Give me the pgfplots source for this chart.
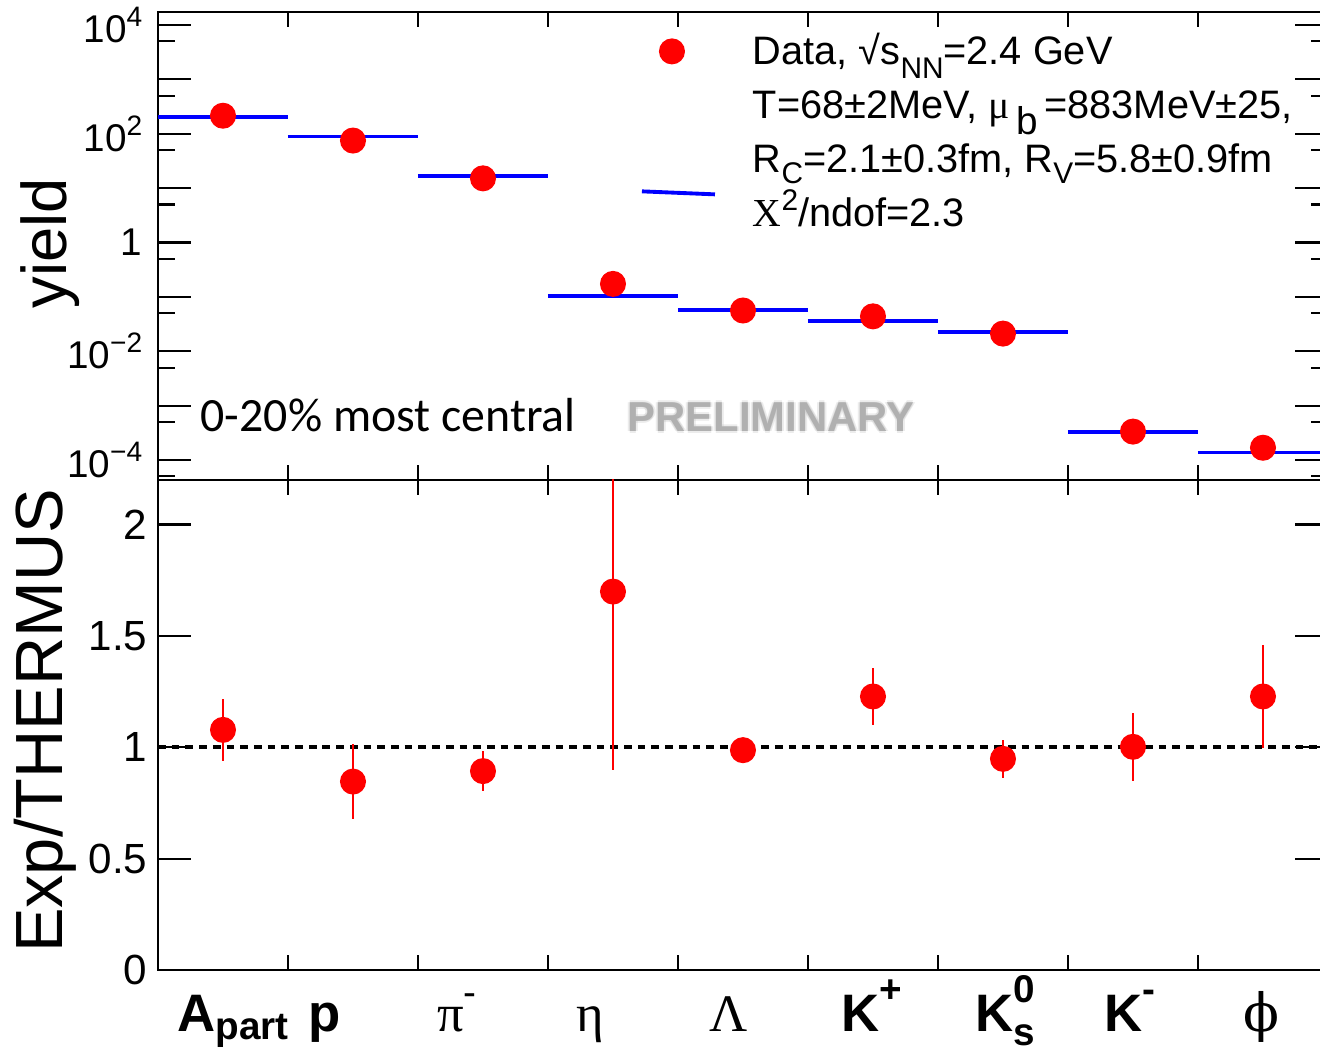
\documentclass[border=0pt]{standalone}
\usepackage{fontspec}
\setmainfont{Liberation Sans}
\newfontfamily\grk{Liberation Serif}
\newfontfamily\grkalt{DejaVu Serif}
\newfontfamily\carlito{Carlito}
\usepackage{pgfplots}
\usepackage{pgfplotstable}
\pgfplotsset{compat=1.18}

% measured yields and THERMUS fit, one row per particle
\pgfplotstableread{
x  data     model
1  214      202
2  74.8     88.6
3  15.1     16.9
4  0.173    0.104
5  0.0561   0.0578
6  0.0438   0.0356
7  0.0211   0.0227
8  3.33e-4  3.33e-4
9  1.68e-4  1.37e-4
}\yields

% fit values drawn as one flat segment per bin
\pgfplotstableread{
x    y
0.5  202
1.5  202
1.5  nan
1.5  88.6
2.5  88.6
2.5  nan
2.5  16.9
3.5  16.9
3.5  nan
3.5  0.104
4.5  0.104
4.5  nan
4.5  0.0578
5.5  0.0578
5.5  nan
5.5  0.0356
6.5  0.0356
6.5  nan
6.5  0.0227
7.5  0.0227
7.5  nan
7.5  3.33e-4
8.5  3.33e-4
8.5  nan
8.5  1.37e-4
9.5  1.37e-4
}\modelsteps

% data over fit with uncertainties
\pgfplotstableread{
x  ratio  err
1  1.078  0.140
2  0.846  0.170
3  0.893  0.090
4  1.699  0.800
5  0.987  0.015
6  1.228  0.128
7  0.948  0.086
8  1.002  0.153
9  1.228  0.230
}\ratios

\newcommand{\tp}[1]{10\raisebox{0.42em}{\fontsize{8}{8}\selectfont #1}}
\newcommand{\sub}[2][-0.28em]{\raisebox{#1}{\fontsize{8.5}{8.5}\selectfont #2}}
\newcommand{\lsub}[2][-0.15em]{\raisebox{#1}{\fontsize{11}{11}\selectfont\bfseries #2}}
\newcommand{\lsup}[1]{\raisebox{0.55em}{\fontsize{11}{11}\selectfont\bfseries #1}}

\pgfplotsset{
  panel/.style={
    scale only axis, width=11.70cm,
    xmin=0.5, xmax=9.5,
    xtick={1.5,2.5,...,8.5}, xticklabels={},
    tick align=inside, tick pos=both,
    major tick length=0.33cm, minor tick length=0.17cm,
    xtick style={/pgfplots/major tick length=0.15cm},
    axis line style={line width=0.75pt},
    every tick/.style={black, line width=0.6pt},
    clip=true,
  },
}

\begin{document}
\begin{tikzpicture}

% upper panel: yields
\begin{axis}[panel,
  at={(1.58cm,5.69cm)}, anchor=south west, height=4.68cm,
  ymode=log, ymin=4.29e-5, ymax=1.73e4,
  ytick={1e-4,1e-3,1e-2,1e-1,1,10,100,1e3,1e4},
  yticklabels={\tp{−4},,\tp{−2},,1,,\tp{2},,\tp{4}},
  minor ytick={5e-5,5e-4,5e-3,5e-2,5e-1,5,50,500,5000},
  yticklabel style={font=\fontsize{11}{11}\selectfont, inner sep=0pt, xshift=-0.15cm},
  ylabel={yield},
  ylabel style={font=\fontsize{18}{18}\selectfont, at={(axis description cs:-0.0923,0.506)}, anchor=center},
  unbounded coords=jump,
  legend style={at={(axis description cs:0.412,0.955)}, anchor=north west,
    draw=none, fill=none, inner sep=0pt, outer sep=0pt,
    font=\fontsize{11.3}{15.4}\selectfont,
    cells={anchor=west, align=left}, nodes={inner sep=0pt},
    column sep=0.36cm, row sep=0.21cm},
]
\addplot[red, only marks, mark=*, mark size=3.5pt] table[x=x, y=data] {\yields};
\addlegendentry{Data, √s\sub[-0.35em]{NN}=2.4 GeV}
\addplot[blue, line width=1.1pt, mark=none,
  legend image code/.code={\draw[blue, line width=1.1pt] (0cm,-0.30cm) -- (0.73cm,-0.33cm);}]
  table[x=x, y=y] {\modelsteps};
\addlegendentry{T=68±2MeV, {\grk μ}\,\sub[-0.4em]{\fontsize{11}{11}\selectfont b}\,=883MeV±25,\\R\sub{C}=2.1±0.3fm, R\sub{V}=5.8±0.9fm\\{\grk Χ}\raisebox{0.42em}{\fontsize{8.5}{8.5}\selectfont 2}/ndof=2.3}
\end{axis}

% lower panel: ratio to the fit
\begin{axis}[panel,
  at={(1.58cm,0.79cm)}, anchor=south west, height=4.90cm,
  ymin=0, ymax=2.2,
  ytick={0,0.5,1,1.5,2}, yticklabels={0,0.5,1,1.5,2},
  yticklabel style={font=\fontsize{12}{12}\selectfont, inner sep=0pt, xshift=-0.10cm},
  extra x ticks={1.077,1.785,2.800,3.823,4.892,5.992,7.015,7.977,8.992},
  extra x tick labels={
    \textbf{A}\lsub{part},
    \textbf{p},
    {\grk π}\raisebox{0.5em}{\fontsize{11}{11}\selectfont -},
    {\grk η},
    {\grk Λ},
    \textbf{K}\lsup{+},
    \textbf{K}\makebox[0pt][l]{\lsup{0}}\lsub[-0.26em]{s},
    \textbf{K}\lsup{-},
    {\grkalt ϕ}},
  extra x tick style={tick style={draw=none}},
  xticklabel style={font=\fontsize{15}{15}\selectfont, anchor=base, yshift=-0.62cm},
  ylabel={Exp/THERMUS},
  ylabel style={font=\fontsize{19}{19}\selectfont, at={(axis description cs:-0.0966,0.508)}, anchor=center},
]
\addplot[black, line width=1.05pt, dash pattern=on 2.2pt off 1.7pt] coordinates {(0.5,1) (9.5,1)};
\addplot[red, only marks, mark=*, mark size=3.5pt,
  error bars/.cd, y dir=both, y explicit, error mark=none,
  error bar style={red, line width=0.55pt}]
  table[x=x, y=ratio, y error=err] {\ratios};
\end{axis}

% annotations in the upper panel
\node[anchor=west, inner sep=0pt, font=\carlito\fontsize{13.6}{13.6}\selectfont] at (2.00,6.34) {0-20\% most central};
\foreach \dx/\dy in {-0.02/0, 0.02/0, 0/0.02, 0/-0.02}
  \node[inner sep=0pt, opacity=0.25, text=gray!60, font=\bfseries\fontsize{11.9}{11.9}\selectfont] at (7.71+\dx,6.32+\dy) {PRELIMINARY};
\node[inner sep=0pt, text=gray!62, font=\bfseries\fontsize{11.9}{11.9}\selectfont] at (7.71,6.32) {PRELIMINARY};

\pgfresetboundingbox
\path (0,0) rectangle (13.2,10.49);
\end{tikzpicture}
\end{document}
